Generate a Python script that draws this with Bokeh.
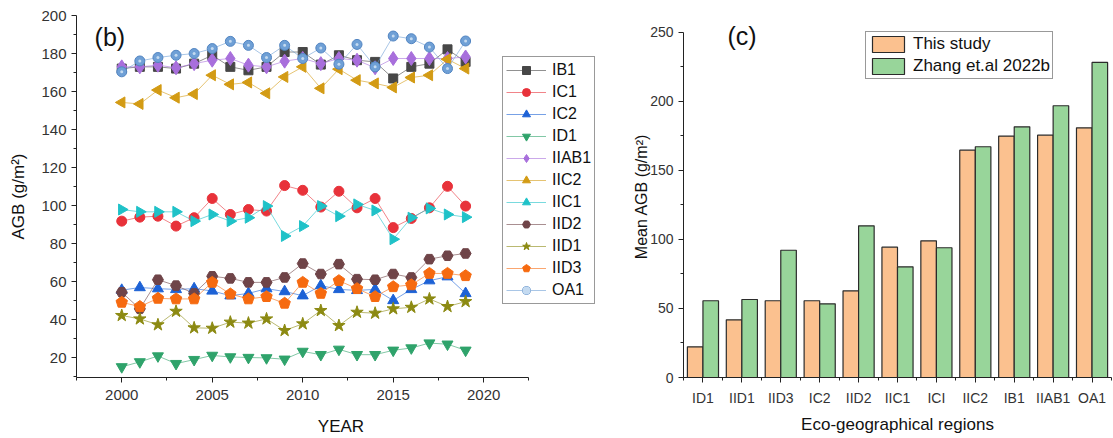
import numpy as np
from bokeh.plotting import figure
from bokeh.layouts import row
from bokeh.models import FixedTicker, Legend, LegendItem, Label, Range1d
from bokeh.embed import file_html
from bokeh.resources import INLINE

FONT = "Liberation Sans"

# ---- annual AGB by eco-geographical region (g/m2) ----
years = list(range(2000, 2020))
IB1 = [172.1, 173.0, 173.0, 172.1, 174.7, 179.1, 173.0, 171.2, 173.0, 180.8,
       180.8, 174.2, 179.1, 176.5, 175.6, 166.9, 173.0, 174.7, 182.2, 175.6]
IC1 = [91.9, 94.0, 94.5, 89.3, 93.7, 103.8, 95.4, 98.0, 97.2, 110.6,
       108.1, 99.3, 107.6, 98.9, 103.8, 88.5, 93.3, 98.9, 110.2, 99.8]
IC2 = [55.6, 57.0, 56.4, 56.0, 56.4, 55.2, 52.7, 53.9, 56.4, 54.9,
       52.7, 58.0, 56.0, 55.5, 56.0, 50.2, 56.0, 60.6, 62.7, 53.9]
ID1 = [15.3, 17.9, 21.0, 17.0, 19.1, 21.3, 20.5, 20.2, 20.0, 19.3,
       23.4, 21.7, 24.5, 21.7, 21.7, 24.0, 25.2, 27.8, 27.2, 24.0]
IIAB1 = [173.0, 173.0, 173.9, 172.5, 174.7, 176.5, 177.4, 173.9, 173.0, 176.0,
         177.4, 174.7, 177.4, 176.5, 172.5, 177.4, 177.4, 177.4, 177.4, 178.2]
IIC2 = [154.3, 153.5, 160.8, 156.8, 158.7, 168.6, 163.8, 164.8, 159.1, 167.7,
        173.0, 161.7, 171.8, 166.0, 164.3, 162.2, 167.4, 168.6, 177.0, 172.1]
IIC1 = [98.0, 96.8, 96.8, 96.8, 91.9, 95.4, 91.9, 93.7, 99.8, 84.1,
        89.3, 99.8, 94.5, 100.7, 97.5, 82.4, 93.7, 98.6, 95.4, 94.0]
IID2 = [54.5, 45.8, 61.1, 58.0, 53.9, 62.9, 61.8, 59.7, 59.7, 62.3,
        69.6, 64.1, 69.3, 61.4, 61.1, 64.1, 62.3, 71.9, 73.7, 74.9]
IID1 = [42.3, 40.5, 37.4, 44.5, 35.8, 35.6, 38.8, 38.3, 40.5, 34.4,
        37.9, 44.9, 37.0, 44.0, 43.5, 45.8, 46.6, 51.0, 47.0, 49.6]
IID3 = [49.2, 47.0, 51.3, 51.0, 51.0, 59.7, 53.6, 51.0, 52.2, 48.7,
        59.7, 53.9, 60.6, 56.4, 52.2, 57.4, 58.4, 64.4, 64.4, 63.2]
OA1 = [170.4, 176.1, 177.9, 179.1, 180.0, 182.6, 186.4, 184.3, 177.9, 184.3,
       177.4, 182.9, 174.4, 184.8, 173.0, 189.2, 187.8, 183.4, 172.1, 186.6]

# ---- mean AGB per region: this study vs. Zhang et al. 2022b ----
regions = ["ID1", "IID1", "IID3", "IC2", "IID2", "IIC1", "ICI", "IIC2", "IB1", "IIAB1", "OA1"]
this_study = [22.2, 41.8, 55.6, 55.6, 62.8, 94.4, 99.0, 164.7, 174.9, 175.6, 180.9]
zhang_2022b = [55.6, 56.5, 92.2, 53.4, 109.9, 80.2, 94.0, 167.2, 181.6, 196.9, 228.3]


def style_axis(ax, tick_size="15px", label_size="17px"):
    ax.axis_line_color = "#222222"
    ax.axis_line_width = 1
    ax.major_tick_line_color = "#222222"
    ax.minor_tick_line_color = "#222222"
    ax.major_tick_in = 0
    ax.major_tick_out = 5
    ax.minor_tick_in = 0
    ax.minor_tick_out = 3
    ax.major_label_text_font = FONT
    ax.major_label_text_font_size = tick_size
    ax.major_label_text_color = "#333333"
    ax.axis_label_text_font = FONT
    ax.axis_label_text_font_size = label_size
    ax.axis_label_text_font_style = "normal"
    ax.axis_label_text_color = "#111111"


# ================= (b) time series =================
# the frame runs on past the x axis so the legend box has room at the right
p1 = figure(width=620, height=438, output_backend="svg", toolbar_location=None,
            x_range=Range1d(1997.5, 2026.73), y_range=Range1d(9.7, 200),
            min_border_left=76, min_border_right=15, min_border_top=15, min_border_bottom=59)
p1.outline_line_color = None
p1.xgrid.visible = False
p1.ygrid.visible = False

p1.xaxis.bounds = (1997.5, 2022.5)
p1.xaxis.ticker = FixedTicker(ticks=[2000, 2005, 2010, 2015, 2020],
                              minor_ticks=[1997.5, 2002.5, 2007.5, 2012.5, 2017.5, 2022.5])
p1.yaxis.ticker = FixedTicker(ticks=list(range(20, 201, 20)),
                              minor_ticks=list(range(10, 200, 20)))
p1.xaxis.axis_label = "YEAR"
p1.yaxis.axis_label = "AGB (g/m²)"
style_axis(p1.xaxis[0])
style_axis(p1.yaxis[0])
p1.xaxis.major_label_standoff = 7
p1.xaxis.axis_label_standoff = 14
p1.yaxis.major_label_standoff = 5
p1.yaxis.axis_label_standoff = 10

series = [
    ("IB1", IB1, "#474747", "square", 0.0, 9),
    ("IC1", IC1, "#E8323A", "circle", 0.0, 10),
    ("IC2", IC2, "#1D62D6", "triangle", 0.0, 11),
    ("ID1", ID1, "#2FA36B", "inverted_triangle", 0.0, 11),
    ("IIAB1", IIAB1, "#A86FDC", "diamond", 0.0, 14),
    ("IIC2", IIC2, "#D39B14", "triangle", np.pi / 2, 11),
    ("IIC1", IIC1, "#1FC2C8", "triangle", -np.pi / 2, 11),
    ("IID2", IID2, "#6F4448", "hex", 0.0, 11),
    ("IID1", IID1, "#8C8A12", "star", 0.0, 13),
    ("IID3", IID3, "#F66A10", "pentagon", 0.0, 6),
    ("OA1", OA1, "#6FA0D6", "sphere", 0.0, 10),
]

items = []
for name, vals, color, marker, ang, size in series:
    rends = [p1.line(years, vals, line_color=color, line_width=1, line_alpha=0.6)]
    if marker == "pentagon":
        rends.append(p1.ngon(years, vals, radius=size, radius_units="screen", n=5,
                             fill_color=color, line_color=color))
    elif marker == "sphere":
        rends.append(p1.scatter(years, vals, marker="circle", size=size,
                                fill_color=color, line_color="#5285C2", line_width=1))
        rends.append(p1.scatter(years, vals, marker="circle", size=3,
                                fill_color="#C4DAF0", line_color=None))
    else:
        rends.append(p1.scatter(years, vals, marker=marker, size=size, angle=ang,
                                fill_color=color, line_color=color))
    items.append(LegendItem(label=name, renderers=rends))

leg1 = Legend(items=items, location=(426, 73), orientation="vertical",
              glyph_width=40, glyph_height=20, label_height=20, spacing=2,
              padding=3, margin=0, label_standoff=6,
              label_text_font=FONT, label_text_font_size="16px", label_text_color="#111111",
              border_line_color="#333333", border_line_width=1,
              background_fill_color="white", background_fill_alpha=1)
p1.add_layout(leg1, "center")

p1.add_layout(Label(x=1998.5, y=188.5, text="(b)", text_font=FONT, text_font_size="25px",
                    text_baseline="middle", text_color="#111111"))

# ================= (c) regional means =================
xs = np.arange(1, len(regions) + 1)
p2 = figure(width=493, height=438, output_backend="svg", toolbar_location=None,
            x_range=Range1d(0.5, 11.5), y_range=Range1d(0, 262.3),
            min_border_left=63, min_border_right=2, min_border_top=15, min_border_bottom=61)
p2.outline_line_color = None
p2.xgrid.visible = False
p2.ygrid.visible = False

r_this = p2.vbar(x=xs - 0.2, top=this_study, width=0.4, fill_color="#FBC18F",
                 line_color="#2b2b2b", line_width=1.2)
r_zhang = p2.vbar(x=xs + 0.2, top=zhang_2022b, width=0.4, fill_color="#98D59A",
                  line_color="#2b2b2b", line_width=1.2)

p2.yaxis.bounds = (0, 250)
p2.xaxis.ticker = FixedTicker(ticks=list(xs), minor_ticks=list(np.arange(0.5, 12, 1.0)))
p2.xaxis.major_label_overrides = {int(i): lab for i, lab in zip(xs, regions)}
p2.yaxis.ticker = FixedTicker(ticks=list(range(0, 251, 50)), minor_ticks=list(range(25, 250, 50)))
p2.xaxis.axis_label = "Eco-geographical regions"
p2.yaxis.axis_label = "Mean AGB (g/m²)"
style_axis(p2.xaxis[0], tick_size="14px", label_size="17px")
style_axis(p2.yaxis[0], tick_size="14px", label_size="16px")
p2.xaxis.major_label_standoff = 7
p2.xaxis.axis_label_standoff = 6
p2.yaxis.major_label_standoff = 5
p2.yaxis.axis_label_standoff = -3

leg2 = Legend(items=[LegendItem(label="This study", renderers=[r_this]),
                     LegendItem(label="Zhang et.al 2022b", renderers=[r_zhang])],
              location=(182, 298), glyph_width=40, glyph_height=20, label_height=20,
              spacing=2, padding=2, margin=0, label_standoff=5,
              label_text_font=FONT, label_text_font_size="17px", label_text_color="#111111",
              border_line_color="#333333", border_line_width=1,
              background_fill_color="white", background_fill_alpha=1)
p2.add_layout(leg2, "center")

p2.add_layout(Label(x=1.63, y=247.8, text="(c)", text_font=FONT, text_font_size="25px",
                    text_baseline="middle", text_color="#111111"))

layout = row(p1, p2)
open("out.html", "w").write(file_html(layout, INLINE))
